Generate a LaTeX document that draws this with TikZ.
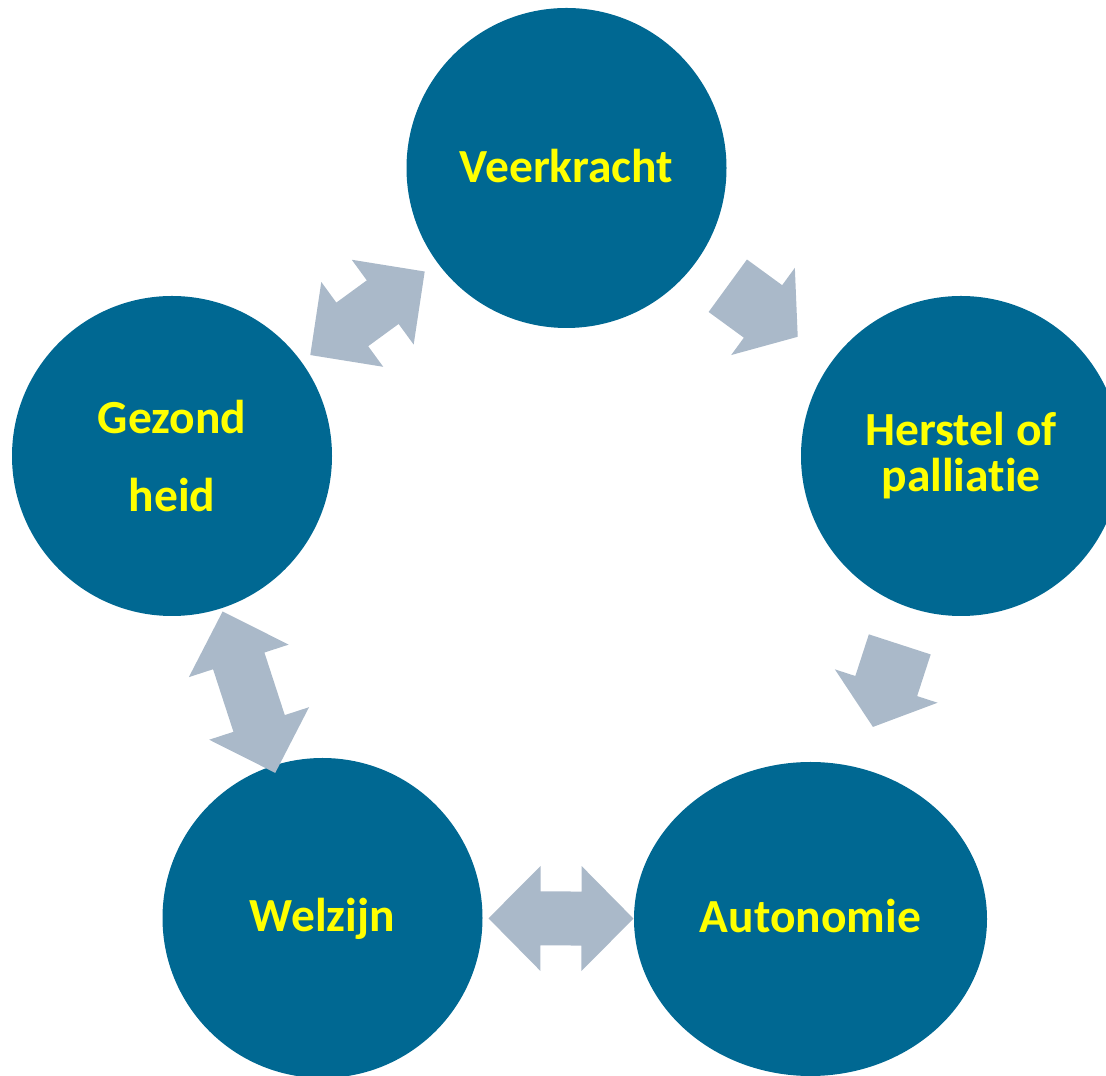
\documentclass[tikz,border=0pt]{standalone}
\usepackage{fontspec}
\setmainfont{Carlito}[Ligatures=NoCommon]
\usetikzlibrary{shapes.geometric}
\definecolor{ringblue}{HTML}{006892}
\definecolor{linkgray}{HTML}{AAB9C9}
\definecolor{textyellow}{HTML}{FFFF00}

% block arrow between two themes: #1 from, #2 to, #3/#4 tip distances from #1
\newcommand\linkboth[4]{%
  \pgfmathanglebetweenpoints{\pgfpointanchor{#1}{center}}{\pgfpointanchor{#2}{center}}%
  \let\linkangle\pgfmathresult
  \begin{scope}[shift={(#1.center)},rotate=\linkangle]
    \fill[linkgray] (#3,0) -- ++(52,52.5) -- ++(0,-25.5) -- (#4-52,27) -- ++(0,25.5)
      -- (#4,0) -- ++(-52,-52.5) -- ++(0,25.5) -- (#3+52,-27) -- ++(0,-25.5) -- cycle;
  \end{scope}}
\newcommand\linkone[4]{%
  \pgfmathanglebetweenpoints{\pgfpointanchor{#1}{center}}{\pgfpointanchor{#2}{center}}%
  \let\linkangle\pgfmathresult
  \begin{scope}[shift={(#1.center)},rotate=\linkangle]
    \fill[linkgray] (#3,32.5) -- (#4-43,32.5) -- ++(0,21.5) -- (#4,0)
      -- (#4-43,-54) -- ++(0,21.5) -- (#3,-32.5) -- cycle;
  \end{scope}}

\begin{document}
\begin{tikzpicture}[
  x=1pt,y=1pt,
  font=\fontsize{47.5}{46}\selectfont\bfseries,
  theme/.style={circle,fill=ringblue,text=textyellow,minimum size=320pt,
                inner sep=0pt,outer sep=0pt,align=center},
  oval/.style={theme,ellipse,minimum width=353pt,minimum height=314pt},
  oneline/.style={text height=#1,text depth=0pt}
]
\useasboundingbox (0,0) rectangle (1106,1076);

%------ the five themes ------------------------------------------------------
\node[theme,oneline=30pt] (veer)    at (566.5,908) {Veerkracht};
\node[theme]              (herstel) at (961,620)   {Herstel of\\palliatie};
\node[oval,oneline=27.4pt](auto)    at (810.5,157) {Autonomie};
\node[theme,oneline=27.4pt](welz)   at (322.5,158) {Welzijn};
\node[theme]              (gez)     at (172,620)   {Gezond\\[32pt]heid};

%------ the links ------------------------------------------------------------
\linkboth{gez}{veer}{171.2}{312.9}
\linkone{veer}{herstel}{199.7}{286.3}
\linkone{herstel}{auto}{198.1}{284.9}
\linkboth{welz}{auto}{166}{311}
\linkboth{gez}{welz}{163.5}{333.3}
\end{tikzpicture}
\end{document}
